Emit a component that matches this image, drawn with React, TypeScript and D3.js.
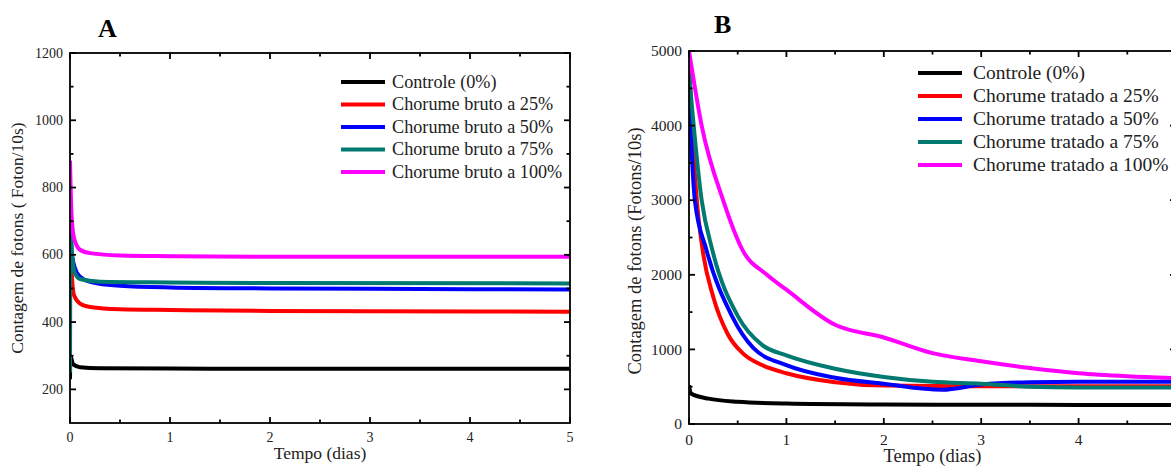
import React from 'react';
import * as d3 from 'd3';

type Pt = [number, number];

// Panel A - chorume bruto
const aLabels = ['Controle (0%)', 'Chorume bruto a 25%', 'Chorume bruto a 50%', 'Chorume bruto a 75%', 'Chorume bruto a 100%'];
const aControle: Pt[] = [[0, 230], [0.004, 300], [0.03, 275], [0.1, 266], [0.3, 263], [1, 262], [2, 261], [3, 261], [5, 261]];
const a25: Pt[] = [[0, 700], [0.015, 560], [0.04, 480], [0.1, 455], [0.2, 445], [0.5, 438], [1, 436], [2, 433], [3, 432], [5, 431]];
const a50: Pt[] = [[0, 680], [0.02, 600], [0.05, 560], [0.1, 535], [0.2, 520], [0.5, 508], [1, 503], [2, 500], [3, 499], [5, 497]];
const a75: Pt[] = [[0, 250], [0.006, 700], [0.02, 600], [0.05, 545], [0.1, 528], [0.3, 520], [1, 518], [2, 516], [5, 515]];
const a100: Pt[] = [[0, 880], [0.015, 720], [0.04, 650], [0.1, 615], [0.2, 605], [0.5, 598], [1, 596], [2, 594], [3, 594], [5, 594]];

// Panel B - chorume tratado
const bLabels = ['Controle (0%)', 'Chorume tratado a 25%', 'Chorume tratado a 50%', 'Chorume tratado a 75%', 'Chorume tratado a 100%'];
const bControle: Pt[] = [[0, 520], [0.02, 410], [0.2, 340], [0.5, 298], [1, 275], [2, 262], [3, 258], [4, 256], [5, 255]];
const b25: Pt[] = [[0, 4900], [0.03, 4000], [0.08, 3000], [0.14, 2330], [0.25, 1700], [0.4, 1200], [0.55, 950], [0.75, 790], [1, 680], [1.5, 560], [2, 515], [3, 505], [4, 505], [5, 505]];
const b50: Pt[] = [[0, 4400], [0.06, 3000], [0.18, 2330], [0.44, 1450], [0.66, 1020], [1, 790], [1.5, 620], [2, 540], [2.6, 460], [3, 530], [3.5, 560], [4, 565], [5, 565]];
const b75: Pt[] = [[0, 4700], [0.13, 3000], [0.24, 2330], [0.5, 1450], [0.75, 1060], [1, 920], [1.5, 740], [2, 630], [2.5, 565], [3, 540], [3.5, 500], [4, 490], [5, 490]];
const b100: Pt[] = [[0, 5000], [0.13, 4000], [0.35, 3000], [0.55, 2330], [0.8, 2000], [1, 1800], [1.5, 1330], [2, 1160], [2.5, 950], [3, 840], [3.5, 750], [4, 680], [4.5, 640], [5, 615]];

const xTicks = [0, 1, 2, 3, 4, 5];
const xMinor = [0.5, 1.5, 2.5, 3.5, 4.5];
const aYTicks = [200, 400, 600, 800, 1000, 1200];
const aYMinor = [300, 500, 700, 900, 1100];
const bYTicks = [0, 1000, 2000, 3000, 4000, 5000];
const bYMinor = [500, 1500, 2500, 3500, 4500];

const colors = ['#000000', '#ff0000', '#0000ff', '#007a70', '#ff00ff'];
const font = "'Liberation Serif', 'Times New Roman', serif";

interface PanelProps {
  left: number; right: number; top: number; bottom: number;
  yDomain: [number, number];
  yTicks: number[]; yMinor: number[];
  series: Pt[][]; labels: string[];
  title: string; titleX: number; titleY: number;
  yLabel: string; yLabelX: number; yLabelY: number;
  legendX: number; legendY: number; legendStep: number; legendTextDx: number;
  maxLabelX: number;
  tickSize: number; labelSize: number; legendSize: number; xLabelDy: number;
}

const Panel = (p: PanelProps) => {
  const x = d3.scaleLinear().domain([0, 5]).range([p.left, p.right]);
  const y = d3.scaleLinear().domain(p.yDomain).range([p.bottom, p.top]);
  const line = d3.line<Pt>().x(d => x(d[0])).y(d => y(d[1])).curve(d3.curveMonotoneX);
  const clipId = 'clip-' + p.title;
  const txt = { fontFamily: font, fill: '#222' };

  return (
    <g>
      <defs>
        <clipPath id={clipId}>
          <rect x={p.left} y={p.top - 2} width={p.right - p.left} height={p.bottom - p.top + 2} />
        </clipPath>
      </defs>
      <text x={p.titleX} y={p.titleY} style={{ fontFamily: font, fontWeight: 'bold', fontSize: 26 }}>{p.title}</text>

      <g clipPath={`url(#${clipId})`}>
        {p.series.map((s, i) => (
          <path key={i} d={line(s) || ''} fill="none" stroke={colors[i]} strokeWidth={4} strokeLinejoin="round" />
        ))}
      </g>

      {/* frame */}
      <rect x={p.left} y={p.top} width={p.right - p.left} height={p.bottom - p.top} fill="none" stroke="#000" strokeWidth={1.8} />

      {/* x ticks */}
      {xTicks.map(t => (
        <g key={'x' + t}>
          <line x1={x(t)} x2={x(t)} y1={p.bottom} y2={p.bottom - 6} stroke="#000" strokeWidth={1.8} />
          <line x1={x(t)} x2={x(t)} y1={p.top} y2={p.top + 6} stroke="#000" strokeWidth={1.8} />
          {x(t) <= p.maxLabelX && (
            <text x={x(t)} y={p.bottom + p.xLabelDy} textAnchor="middle" style={{ ...txt, fontSize: p.tickSize }}>{t}</text>
          )}
        </g>
      ))}
      {xMinor.map(t => (
        <g key={'xm' + t}>
          <line x1={x(t)} x2={x(t)} y1={p.bottom} y2={p.bottom - 3.5} stroke="#000" strokeWidth={1.8} />
          <line x1={x(t)} x2={x(t)} y1={p.top} y2={p.top + 3.5} stroke="#000" strokeWidth={1.8} />
        </g>
      ))}

      {/* y ticks */}
      {p.yTicks.map(t => (
        <g key={'y' + t}>
          <line x1={p.left} x2={p.left + 6} y1={y(t)} y2={y(t)} stroke="#000" strokeWidth={1.8} />
          <line x1={p.right} x2={p.right - 6} y1={y(t)} y2={y(t)} stroke="#000" strokeWidth={1.8} />
          <text x={p.left - 7} y={y(t) + p.tickSize * 0.33} textAnchor="end" style={{ ...txt, fontSize: p.tickSize }}>{t}</text>
        </g>
      ))}
      {p.yMinor.map(t => (
        <g key={'ym' + t}>
          <line x1={p.left} x2={p.left + 3.5} y1={y(t)} y2={y(t)} stroke="#000" strokeWidth={1.8} />
          <line x1={p.right} x2={p.right - 3.5} y1={y(t)} y2={y(t)} stroke="#000" strokeWidth={1.8} />
        </g>
      ))}

      <text x={(p.left + p.right) / 2} y={p.bottom + p.xLabelDy + 17} textAnchor="middle" style={{ ...txt, fontSize: p.labelSize }}>Tempo (dias)</text>
      <text transform={`translate(${p.yLabelX},${p.yLabelY}) rotate(-90)`} textAnchor="middle" style={{ ...txt, fontSize: p.labelSize }}>{p.yLabel}</text>

      {/* legend */}
      {p.labels.map((lab, i) => (
        <g key={'l' + i}>
          <line x1={p.legendX} x2={p.legendX + 44} y1={p.legendY + i * p.legendStep} y2={p.legendY + i * p.legendStep} stroke={colors[i]} strokeWidth={4} />
          <text x={p.legendX + p.legendTextDx} y={p.legendY + i * p.legendStep + p.legendSize * 0.32} style={{ ...txt, fontSize: p.legendSize }}>{lab}</text>
        </g>
      ))}
    </g>
  );
};

export default function App() {
  return (
    <svg width={1171} height={466} style={{ position: 'absolute', left: 0, top: 0, background: '#fff' }}>
      <rect width={1171} height={466} fill="#fff" />
      <Panel left={70} right={570} top={53} bottom={423} yDomain={[100, 1200]}
        yTicks={aYTicks} yMinor={aYMinor} series={[aControle, a25, a50, a75, a100]} labels={aLabels}
        title="A" titleX={98} titleY={37} yLabel="Contagem de fotons ( Foton/10s)" yLabelX={23} yLabelY={238}
        legendX={341} legendY={82} legendStep={22.5} legendTextDx={51}
        maxLabelX={1171} tickSize={14} labelSize={17.5} legendSize={18.2} xLabelDy={19} />
      <Panel left={689} right={1176} top={51} bottom={424} yDomain={[0, 5000]}
        yTicks={bYTicks} yMinor={bYMinor} series={[bControle, b25, b50, b75, b100]} labels={bLabels}
        title="B" titleX={714} titleY={33} yLabel="Contagem de fotons (Fotons/10s)" yLabelX={641} yLabelY={251}
        legendX={918} legendY={73} legendStep={23} legendTextDx={55}
        maxLabelX={1160} tickSize={15.5} labelSize={18.5} legendSize={19.5} xLabelDy={21} />
    </svg>
  );
}
